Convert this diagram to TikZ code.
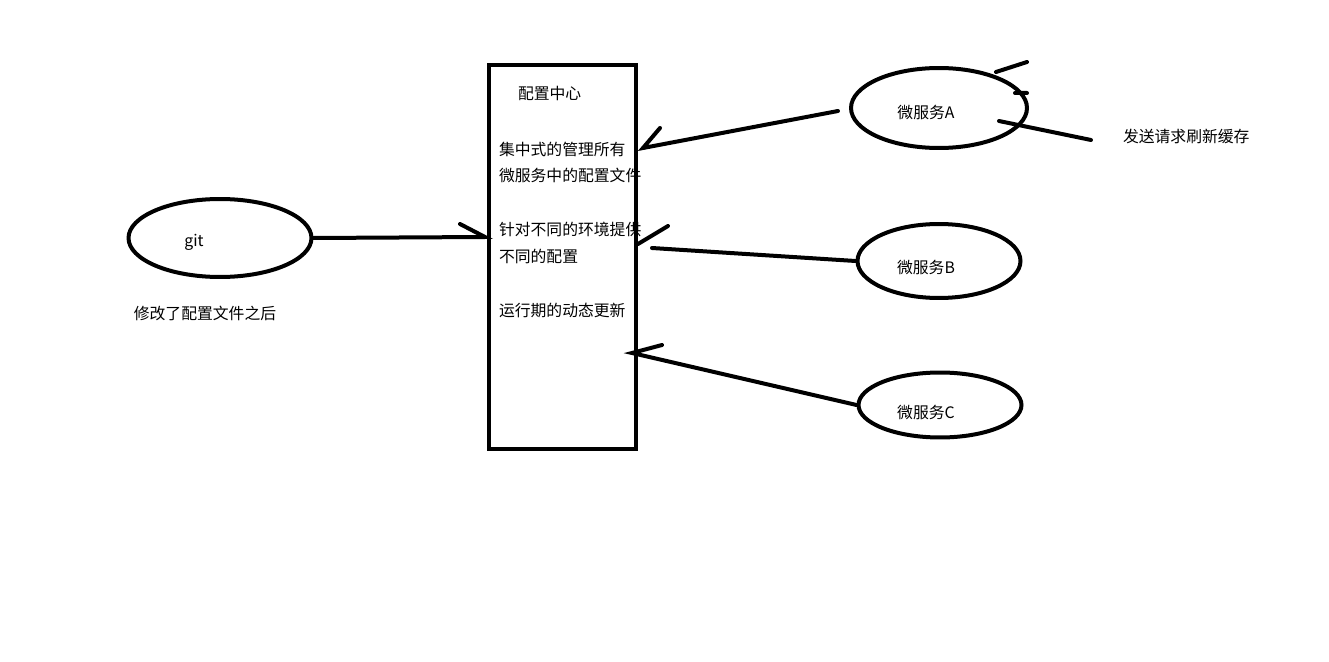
\documentclass[tikz,border=0pt]{standalone}
\usepackage{fontspec}
\setmainfont{Noto Sans CJK SC}
\usetikzlibrary{shapes.geometric}
\begin{document}
\begin{tikzpicture}[x=0.02cm, y=-0.02cm, line width=0.08cm, line cap=round,
		font=\fontsize{9pt}{11pt}\selectfont,
		bubble/.style={draw, ellipse, inner sep=0pt},
		txt/.style={inner sep=0pt, anchor=west}]
	\useasboundingbox[fill=white] (0,0) rectangle (1329,662);
	% --- Knoten ---
	\node[bubble, minimum width=3.66cm, minimum height=1.56cm] (git) at (220,238) {};
	\node[inner sep=0pt] (gitlbl) at (194,242) {git};
	\node[inner sep=0pt] (change) at (205,313) {修改了配置文件之后};
	\draw (489,65) rectangle (636,449);
	\node[txt] (title) at (516,93) {配置中心};
	\foreach \y/\t/\n in {149/集中式的管理所有/l1, 175/微服务中的配置文件/l2, 229/针对不同的环境提供/l3, 256/不同的配置/l4, 310/运行期的动态更新/l5}
		\node[txt] (\n) at (497,\y) {\t};
	\node[bubble, minimum width=3.52cm, minimum height=1.6cm] (msA) at (939,108) {};
	\node[bubble, minimum width=3.26cm, minimum height=1.48cm] (msB) at (939,261) {};
	\node[bubble, minimum width=3.26cm, minimum height=1.3cm] (msC) at (940,405) {};
	\node[inner sep=0pt] (lblA) at (926,113) {微服务A};
	\node[inner sep=0pt] (lblB) at (926,267) {微服务B};
	\node[inner sep=0pt] (lblC) at (926,412) {微服务C};
	\node[txt] (refresh) at (1121,136) {发送请求刷新缓存};
	% --- Pfeile (handgezeichnet) ---
	\coordinate (tipG) at (485,237);
	\coordinate (tipA) at (643,148);
	\coordinate (tipB) at (638,244);
	\coordinate (tipC) at (632,353);
	\coordinate (tipR) at (999,121);
	\draw (git.east) -- (tipG) -- (460,224);
	\draw (838,111) -- (tipA) -- (660,128);
	\draw (msB.west) -- (652,248) (tipB) -- (668,226);
	\draw (msC.west) -- (tipC) -- (662,345);
	\draw (1091,140) -- (tipR);
	\draw (996,72) -- (1027,62) (1015,93) -- (1027,93);
\end{tikzpicture}
\end{document}
